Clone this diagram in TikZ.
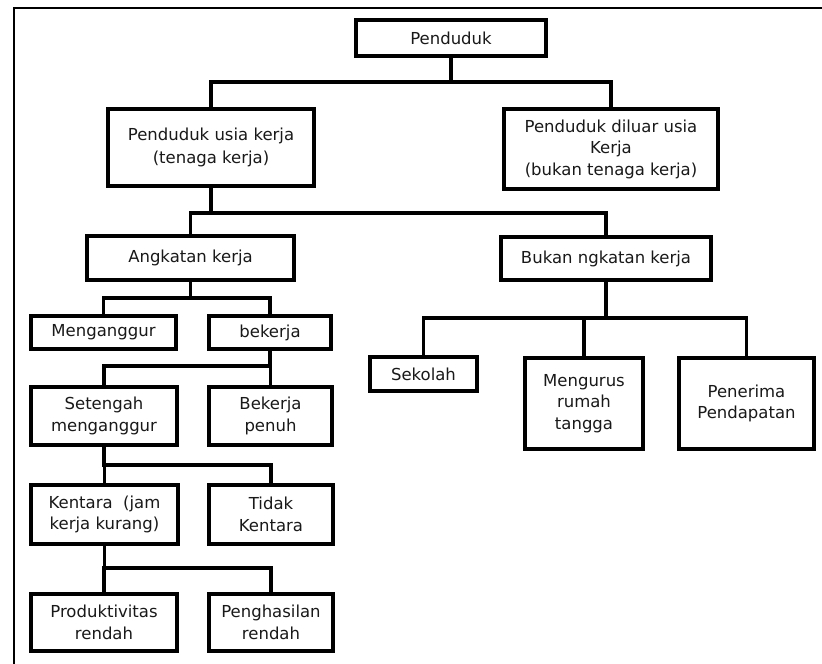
\documentclass[tikz,border=0pt]{standalone}
\usepackage{fontspec}
\setmainfont{DejaVu Sans}
\begin{document}
\begin{tikzpicture}[x=1pt,y=-1pt,
  box/.style={draw=black,line width=4pt,fill=white,inner sep=0pt,align=center,
    font=\fontsize{16.5}{21.5}\selectfont,text=black!90},
  conn/.style={draw=black,line width=3.2pt}]
\useasboundingbox (0,0) rectangle (822,664);
\fill[white] (0,0) rectangle (822,664);
% outer frame
\coordinate (ftl) at (14,8);
\coordinate (ftr) at (822,8);
\coordinate (fbl) at (14,664);
\draw[line width=2pt] (ftr) -- (ftl) -- (fbl);
% boxes
\node[box,minimum width=190pt,minimum height=36pt] (pend) at (451,38) {Penduduk};
\node[box,minimum width=206pt,minimum height=77pt] (usia) at (211,147.5) {Penduduk usia kerja\\[2pt](tenaga kerja)};
\node[box,minimum width=214pt,minimum height=80pt] (luar) at (611,149) {Penduduk diluar usia\\Kerja\\(bukan tenaga kerja)};
\node[box,minimum width=207pt,minimum height=44pt] (ak) at (190.5,258) {Angkatan kerja};
\node[box,minimum width=210pt,minimum height=43pt] (bak) at (606,258.5) {Bukan ngkatan kerja};
\node[box,minimum width=145pt,minimum height=33pt] (meng) at (103.5,332.5) {Menganggur};
\node[box,minimum width=122pt,minimum height=33pt] (bek) at (270,332.5) {bekerja};
\node[box,minimum width=146pt,minimum height=58pt] (seten) at (104,416) {Setengah\\menganggur};
\node[box,minimum width=123pt,minimum height=58pt] (penuh) at (270.5,416) {Bekerja\\penuh};
\node[box,minimum width=147pt,minimum height=59pt] (kent) at (104.5,514.5) {Kentara~~(jam\\kerja kurang)};
\node[box,minimum width=124pt,minimum height=59pt] (tidak) at (271,514.5) {Tidak\\Kentara};
\node[box,minimum width=146pt,minimum height=57pt] (prod) at (104,622.5) {Produktivitas\\rendah};
\node[box,minimum width=124pt,minimum height=57pt] (peng) at (271,622.5) {Penghasilan\\rendah};
\node[box,minimum width=107pt,minimum height=34pt] (sek) at (423.5,374) {Sekolah};
\node[box,minimum width=118pt,minimum height=91pt] (murus) at (584,403.5) {Mengurus\\rumah\\tangga};
\node[box,minimum width=135pt,minimum height=91pt] (pener) at (746.5,403.5) {Penerima\\Pendapatan};
% connectors
\draw[conn] (pend.south) -- ++(0,24) -| (usia.north);
\draw[conn] (pend.south) -- ++(0,24) -| (luar.north);
\draw[conn] (usia.south) -- ++(0,25) -| (ak.north);
\draw[conn] (usia.south) -- ++(0,25) -| (bak.north);
\draw[conn] (ak.south) -- ++(0,16) -| (meng.north);
\draw[conn] (ak.south) -- ++(0,16) -| (bek.north);
\draw[conn] (bek.south) -- ++(0,15) -| (seten.north);
\draw[conn] (bek.south) -- ++(0,15) -| (penuh.north);
\draw[conn] (seten.south) -- ++(0,18) -| (kent.north);
\draw[conn] (seten.south) -- ++(0,18) -| (tidak.north);
\draw[conn] (kent.south) -- ++(0,22) -| (prod.north);
\draw[conn] (kent.south) -- ++(0,22) -| (peng.north);
\draw[conn] (bak.south) -- ++(0,36) -| (sek.north);
\draw[conn] (bak.south) -- ++(0,36) -| (murus.north);
\draw[conn] (bak.south) -- ++(0,36) -| (pener.north);
\end{tikzpicture}
\end{document}
